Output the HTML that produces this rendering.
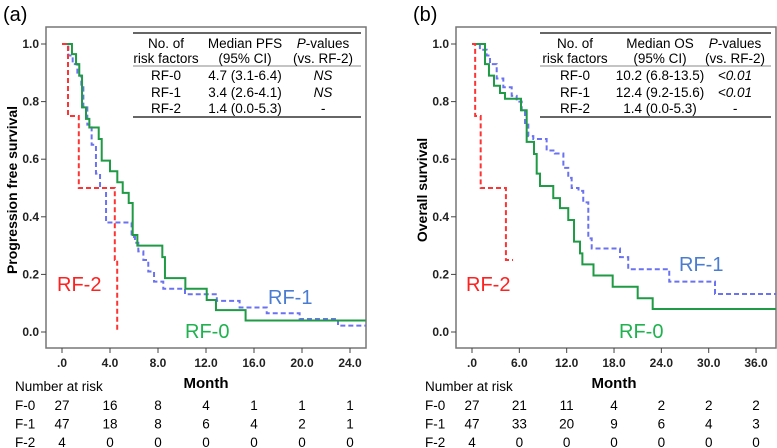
<!DOCTYPE html>
<html><head><meta charset="utf-8">
<style>
body{margin:0;background:#fff;}
svg{display:block;font-family:"Liberation Sans",Arial,sans-serif;}
</style></head>
<body>
<svg id="fig" width="777" height="448" viewBox="0 0 777 448"></svg>
<script>
// ---- Panel (a) PFS data ----
const pfsRF0T=[0,0.83,1.17,1.44,1.67,2.0,2.28,3.06,3.31,4.0,4.61,5.06,5.56,5.89,6.28,8.36,8.58,10.28,12.06,12.83,15.3];
const pfsRF0S=[1,0.965,0.93,0.89,0.78,0.74,0.71,0.67,0.595,0.558,0.52,0.483,0.448,0.337,0.30,0.26,0.187,0.15,0.111,0.076,0.04];
const pfsRF0End=25.3;
const pfsRF1T=[0,0.53,0.89,1.28,1.61,1.78,2.11,2.47,2.83,3.17,3.67,5.8,6.08,6.36,6.78,7.19,7.67,8.44,10.25,12.9,14.8,17.06,19.8,23.0];
const pfsRF1S=[1,0.96,0.93,0.89,0.85,0.78,0.72,0.65,0.55,0.5,0.38,0.33,0.31,0.28,0.25,0.21,0.175,0.15,0.131,0.108,0.085,0.065,0.045,0.022];
const pfsRF1End=25.3;
const pfsRF2T=[0,0.5,1.4,4.4,4.6];
const pfsRF2S=[1,0.75,0.5,0.25,0];
const pfsRF2End=4.6;
const pfsXTicks=[0,4,8,12,16,20,24];
const pfsXLabels=[".0","4.0","8.0","12.0","16.0","20.0","24.0"];
const pfsRiskRF0=[27,16,8,4,1,1,1];
const pfsRiskRF1=[47,18,8,6,4,2,1];
const pfsRiskRF2=[4,0,0,0,0,0,0];
// ---- Panel (b) OS data ----
const osRF0T=[0,1.65,2.15,2.79,3.55,4.18,6.21,6.93,7.86,8.2,8.62,10.3,11.15,12.2,12.93,13.69,13.99,15.4,17.83,21.0,22.9];
const osRF0S=[1,0.93,0.89,0.855,0.83,0.81,0.77,0.66,0.618,0.55,0.507,0.465,0.43,0.389,0.314,0.273,0.235,0.196,0.157,0.117,0.08];
const osRF0End=38.5;
const osRF1T=[0,1.0,1.86,2.28,3.13,3.97,5.03,5.66,6.3,6.72,7.14,7.77,9.46,10.5,11.58,12.2,12.63,13.5,14.1,14.74,15.17,18.76,19.8,25.0,30.8];
const osRF1S=[1,0.98,0.96,0.93,0.88,0.85,0.82,0.8,0.77,0.72,0.68,0.67,0.63,0.62,0.57,0.535,0.5,0.49,0.45,0.325,0.29,0.26,0.218,0.175,0.132];
const osRF1End=38.5;
const osRF2T=[0,0.4,1.1,4.3];
const osRF2S=[1,0.75,0.5,0.25];
const osRF2End=5.2;
const osXTicks=[0,6,12,18,24,30,36];
const osXLabels=[".0","6.0","12.0","18.0","24.0","30.0","36.0"];
const osRiskRF0=[27,21,11,4,2,2,2];
const osRiskRF1=[47,33,20,9,6,4,3];
const osRiskRF2=[4,0,0,0,0,0,0];
const yTicks=[0,0.2,0.4,0.6,0.8,1.0];
const yLabels=["0.0","0.2","0.4","0.6","0.8","1.0"];

const NS="http://www.w3.org/2000/svg";
const svg=document.getElementById('fig');
function mk(tag,attrs,parent,text){const e=document.createElementNS(NS,tag);for(const k in attrs)e.setAttribute(k,attrs[k]);if(text!==undefined)e.textContent=text;(parent||svg).appendChild(e);return e;}

function panel(o){
  const g=mk('g',{});
  
  
  const x=t=>o.x0+t*o.kx;
  const y=s=>332-s*288;
  const box=mk('rect',{x:o.bx,y:27,width:320,height:321,fill:'none',stroke:'#777','stroke-width':1.5},g);
  
  
  const pl=mk('text',{x:o.bx-43,y:21,'font-size':20},g,o.label);
  
  
  yTicks.forEach((v,i)=>{
    mk('line',{x1:o.bx-5,x2:o.bx,y1:y(v),y2:y(v),stroke:'#444'},g);
    const t=mk('text',{x:o.bx-7,y:y(v)+4,'font-size':12,'font-weight':'bold','text-anchor':'end',fill:'#222'},g,yLabels[i]);
    
    
  });
  o.xt.forEach((v,i)=>{
    mk('line',{x1:x(v),x2:x(v),y1:348,y2:353,stroke:'#444'},g);
    const t=mk('text',{x:x(v),y:367,'font-size':12,'font-weight':'bold','text-anchor':'middle',fill:'#222'},g,o.xl[i]);
    
    
  });
  const xt=mk('text',{x:x(o.xt[3]),y:388,'font-size':15,'font-weight':'bold','text-anchor':'middle'},g,'Month');
  
  
  const yt=mk('text',{x:0,y:0,'font-size':14,'font-weight':'bold','text-anchor':'middle',transform:`translate(${o.bx-29},190) rotate(-90)`},g,o.ytitle);
  
  
  function curve(T,S,end,color,dash,name){
    let d=`M${x(T[0])},${y(S[0])}`;
    for(let i=1;i<T.length;i++){d+=`H${x(T[i])}V${y(S[i])}`;}
    d+=`H${x(end)}`;
    const p=mk('path',{d:d,fill:'none',stroke:color,'stroke-width':2,'stroke-dasharray':dash||'none'},g);
    
    
  }
  curve(o.r1T,o.r1S,o.r1E,'#6a72f2','5,3','curve-rf-1');
  curve(o.r0T,o.r0S,o.r0E,'#1f9a45',null,'curve-rf-0');
  curve(o.r2T,o.r2S,o.r2E,'#ff3333','5,3','curve-rf-2');
  o.labs.forEach(l=>{const t=mk('text',{x:l[0],y:l[1],'font-size':20,fill:l[2]},g,l[3]);
    
    });
  const tb=o.tb;
  mk('line',{x1:tb.x1,x2:tb.x2,y1:33,y2:33,stroke:'#333','stroke-width':1.5},g);
  mk('line',{x1:tb.x1,x2:tb.x2,y1:66,y2:66,stroke:'#888','stroke-width':1},g);
  mk('line',{x1:tb.x1,x2:tb.x2,y1:117,y2:117,stroke:'#333','stroke-width':1.5},g);
  const rows=[["No. of","Median "+o.med,"P-values"],["risk factors","(95% CI)","(vs. RF-2)"]].concat(o.trows);
  const ys=[48,63,80,97,113];
  rows.forEach((r,ri)=>r.forEach((c,ci)=>{
    const it=(ci==2&&ri>=2);
    if(ri==0&&ci==2){const t=mk('text',{x:tb.cx[2],y:ys[0],'font-size':13.5,'text-anchor':'middle'},g);
      mk('tspan',{'font-style':'italic'},t,'P');mk('tspan',{},t,'-values');
      return;}
    const t=mk('text',{x:tb.cx[ci],y:ys[ri],'font-size':13.5,'text-anchor':'middle','font-style':it?'italic':'normal'},g,c);
    
    
  }));
  const nr=mk('text',{x:o.bx-31,y:391,'font-size':13.5},g,'Number at risk');
  
  
  [["F-0",o.k0],["F-1",o.k1],["F-2",o.k2]].forEach((r,ri)=>{
    const ry=410+ri*18.5;
    mk('text',{x:o.bx-31,y:ry,'font-size':13.5},g,r[0]);
    r[1].forEach((v,i)=>{const t=mk('text',{x:x(o.xt[i]),y:ry,'font-size':13.5,'text-anchor':'middle'},g,v);
      
      });
  });
}
panel({name:'panel-a-pfs',label:'(a)',bx:46,x0:62,kx:12,ytitle:'Progression free survival',xt:pfsXTicks,xl:pfsXLabels,
  r0T:pfsRF0T,r0S:pfsRF0S,r0E:pfsRF0End,r1T:pfsRF1T,r1S:pfsRF1S,r1E:pfsRF1End,r2T:pfsRF2T,r2S:pfsRF2S,r2E:pfsRF2End,
  labs:[[57,291,'#ff2020','RF-2'],[268,304,'#4a7dd2','RF-1'],[185,338,'#1fb24f','RF-0']],
  tb:{x1:133,x2:361,cx:[166,245,323]},med:'PFS',
  trows:[["RF-0","4.7 (3.1-6.4)","NS"],["RF-1","3.4 (2.6-4.1)","NS"],["RF-2","1.4 (0.0-5.3)","-"]],
  k0:pfsRiskRF0,k1:pfsRiskRF1,k2:pfsRiskRF2});
panel({name:'panel-b-os',label:'(b)',bx:456,x0:472,kx:7.89,ytitle:'Overall survival',xt:osXTicks,xl:osXLabels,
  r0T:osRF0T,r0S:osRF0S,r0E:osRF0End,r1T:osRF1T,r1S:osRF1S,r1E:osRF1End,r2T:osRF2T,r2S:osRF2S,r2E:osRF2End,
  labs:[[466,291,'#ff2020','RF-2'],[679,271,'#4a7dd2','RF-1'],[619,338,'#1fb24f','RF-0']],
  tb:{x1:540,x2:771,cx:[575,660,735]},med:'OS',
  trows:[["RF-0","10.2 (6.8-13.5)","<0.01"],["RF-1","12.4 (9.2-15.6)","<0.01"],["RF-2","1.4 (0.0-5.3)","-"]],
  k0:osRiskRF0,k1:osRiskRF1,k2:osRiskRF2});
</script>
</body></html>
